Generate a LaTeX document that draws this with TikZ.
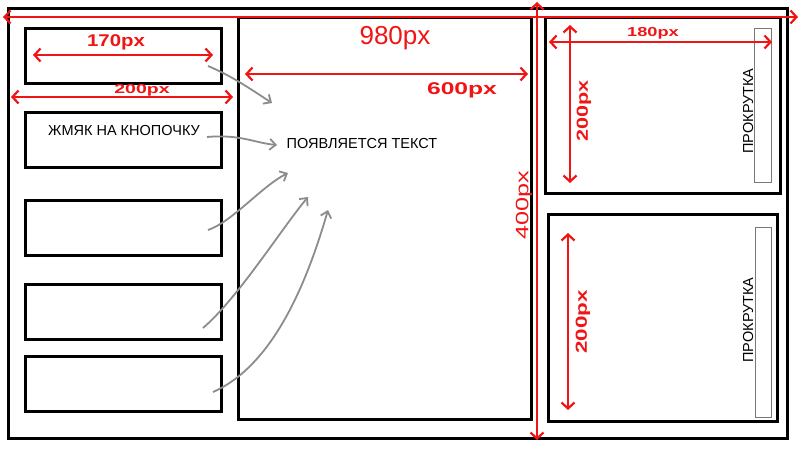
\documentclass[tikz,border=0pt]{standalone}
\usepackage{fontspec}
\usepackage{graphicx}
\setmainfont{Liberation Sans}
\usetikzlibrary{arrows.meta}
\definecolor{redline}{RGB}{240,20,20}
\definecolor{grayarrow}{RGB}{140,140,140}
\definecolor{scrollgray}{RGB}{120,120,120}
\tikzset{
  frame/.style={draw=black, line width=3pt, rectangle, inner sep=0pt, outer sep=0pt},
  scrollbar/.style={draw=scrollgray, line width=1pt, rectangle, inner sep=0pt, outer sep=0pt},
  uitext/.style={font=\fontsize{14.5}{16}\selectfont, text=black, inner sep=0pt},
  dimline/.style={draw=redline, line width=2.4pt, {Straight Barb[length=6pt,width=13pt,line width=2.2pt]}-{Straight Barb[length=6pt,width=13pt,line width=2.2pt]}},
  dimlabel/.style={text=redline, font=\fontsize{13}{15}\selectfont\bfseries, inner sep=0pt},
  flow/.style={draw=grayarrow, line width=1.8pt, -{Straight Barb[length=6pt,width=11pt,line width=1.8pt]}}
}
\begin{document}
\begin{tikzpicture}[x=1pt,y=-1pt]
\useasboundingbox (0,0) rectangle (800,450);
% frames
\node[frame, minimum width=779pt, minimum height=430pt] (outer) at (397.5,223) {};
\node[frame, minimum width=196pt, minimum height=55pt] (b1) at (123,55.5) {};
\node[frame, minimum width=196pt, minimum height=55pt] (b2) at (123,139.5) {};
\node[frame, minimum width=196pt, minimum height=55pt] (b3) at (123,227.5) {};
\node[frame, minimum width=196pt, minimum height=55pt] (b4) at (123,311.5) {};
\node[frame, minimum width=196pt, minimum height=55pt] (b5) at (123,383.5) {};
\node[frame, minimum width=293pt, minimum height=402pt] (mid) at (384.5,218) {};
\node[frame, minimum width=235pt, minimum height=176pt] (r1) at (662.5,105) {};
\node[frame, minimum width=229pt, minimum height=207pt] (r2) at (662.5,317.5) {};
\node[scrollbar, minimum width=17pt, minimum height=154pt] (s1) at (763,105) {};
\node[scrollbar, minimum width=16pt, minimum height=190pt] (s2) at (763,322) {};
% texts
\node[uitext] (t1) at (124,131) {ЖМЯК НА КНОПОЧКУ};
\node[uitext] (t2) at (362,144) {ПОЯВЛЯЕТСЯ ТЕКСТ};
\node[uitext, rotate=90] (t3) at (748,111) {ПРОКРУТКА};
\node[uitext, rotate=90] (t4) at (748,320) {ПРОКРУТКА};
% gray flow arrows
\coordinate (f1s) at (208,66);  \coordinate (f1e) at (272,103);
\coordinate (f2s) at (207,137); \coordinate (f2e) at (277,145);
\coordinate (f3s) at (208,230); \coordinate (f3e) at (288,173);
\coordinate (f4s) at (203,328); \coordinate (f4e) at (308,197);
\coordinate (f5s) at (213,392); \coordinate (f5e) at (328,210);
\draw[flow] (f1s) .. controls (232,76) and (252,90) .. (f1e);
\draw[flow] (f2s) .. controls (240,134) and (255,143) .. (f2e);
\draw[flow] (f3s) .. controls (232,222) and (262,186) .. (f3e);
\draw[flow] (f4s) .. controls (238,298) and (282,228) .. (f4e);
\draw[flow] (f5s) .. controls (272,366) and (306,286) .. (f5e);
% red dimension lines
\coordinate (d980a) at (3,17);   \coordinate (d980b) at (798,17);
\coordinate (d400a) at (537,2);  \coordinate (d400b) at (537,440);
\coordinate (d170a) at (33,55);  \coordinate (d170b) at (213,55);
\coordinate (d200a) at (11,97);  \coordinate (d200b) at (233,97);
\coordinate (d600a) at (245,74); \coordinate (d600b) at (528,74);
\coordinate (d180a) at (549,42); \coordinate (d180b) at (772,42);
\coordinate (dv1a) at (570,25);  \coordinate (dv1b) at (570,183);
\coordinate (dv2a) at (568,233); \coordinate (dv2b) at (568,410);
\draw[dimline] (d980a) -- (d980b);
\draw[dimline] (d400a) -- (d400b);
\draw[dimline] (d170a) -- (d170b);
\draw[dimline] (d200a) -- (d200b);
\draw[dimline] (d600a) -- (d600b);
\draw[dimline] (d180a) -- (d180b);
\draw[dimline] (dv1a) -- (dv1b);
\draw[dimline] (dv2a) -- (dv2b);
% red labels
\node[dimlabel, font=\fontsize{26}{28}\selectfont] (l980) at (395,38) {980px};
\node[dimlabel, font=\fontsize{18}{20}\selectfont, rotate=90] (l400) at (524,205) {\scalebox{1.4}[1]{400px}};
\node[dimlabel, font=\fontsize{17}{19}\selectfont\bfseries] (l170) at (116,42) {\scalebox{1.2}[1]{170px}};
\node[dimlabel] (l200) at (142,90) {\scalebox{1.5}[1]{200px}};
\node[dimlabel, font=\fontsize{17}{19}\selectfont\bfseries] (l600) at (462,90) {\scalebox{1.45}[1]{600px}};
\node[dimlabel] (l180) at (653,33) {\scalebox{1.4}[1]{180px}};
\node[dimlabel, font=\fontsize{16}{18}\selectfont\bfseries, rotate=90] (lv1) at (584,111) {\scalebox{1.35}[1]{200px}};
\node[dimlabel, font=\fontsize{16}{18}\selectfont\bfseries, rotate=90] (lv2) at (583,322) {\scalebox{1.4}[1]{200px}};
\end{tikzpicture}
\end{document}
